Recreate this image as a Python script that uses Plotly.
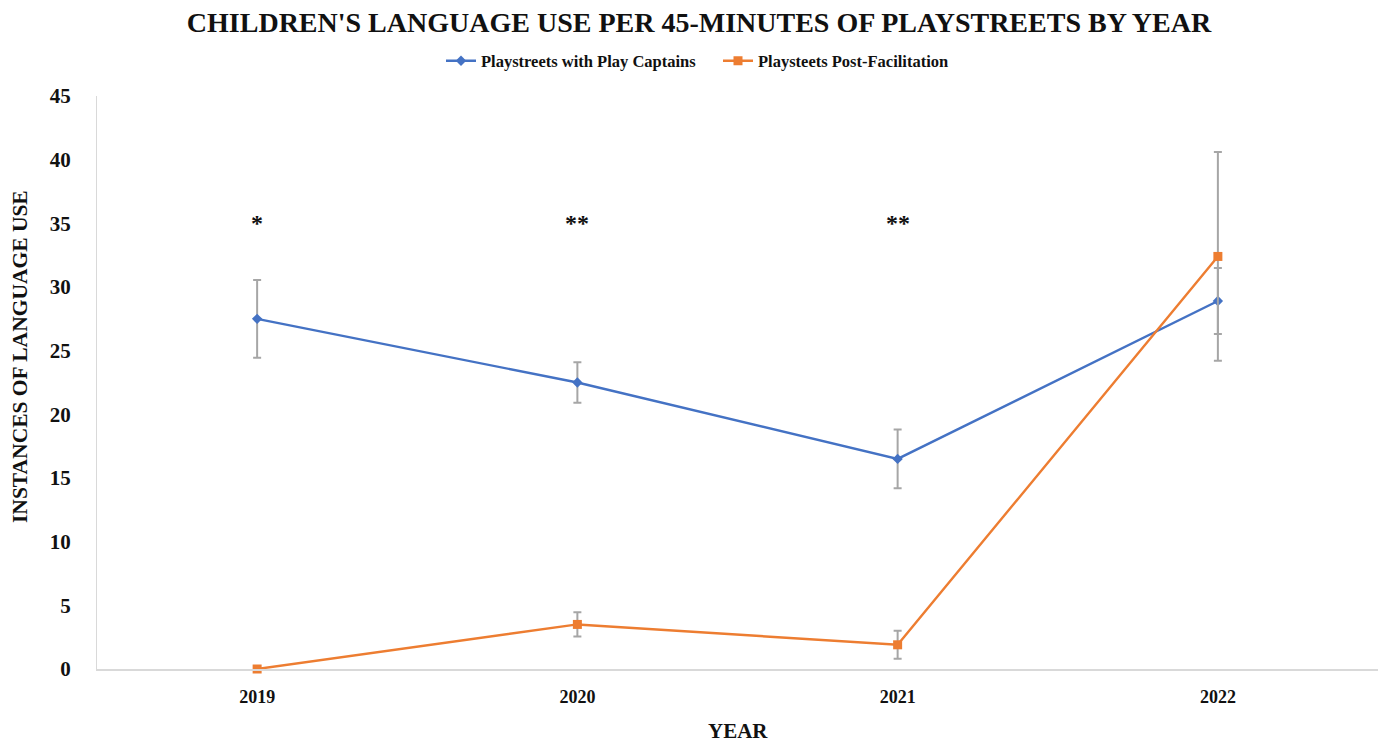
import plotly.graph_objects as go

years = ["2019", "2020", "2021", "2022"]
captains = [27.5, 22.5, 16.5, 28.9]
captains_err = [3.05, 1.6, 2.3, 2.6]
post = [0.0, 3.5, 1.9, 32.4]
post_err = [0.0, 0.95, 1.1, 8.2]
sig_labels = ["*", "**", "**", ""]
sig_y = 35

SERIF = "Liberation Serif"
BLUE = "#4472C4"
ORANGE = "#ED7D31"
GREY = "#A6A6A6"

fig = go.Figure()
fig.add_trace(go.Scatter(
    x=years, y=captains, name="Playstreets with Play Captains",
    mode="lines+markers", cliponaxis=False,
    line=dict(color=BLUE, width=2.4),
    marker=dict(symbol="diamond", size=8, color=BLUE),
    error_y=dict(type="data", array=captains_err, color=GREY, thickness=2, width=4),
))
fig.add_trace(go.Scatter(
    x=years, y=post, name="Playsteets Post-Facilitation",
    mode="lines+markers", cliponaxis=False,
    line=dict(color=ORANGE, width=2.4),
    marker=dict(symbol="square", size=9, color=ORANGE),
    error_y=dict(type="data", array=post_err, color=GREY, thickness=2, width=4),
))

for i, lab in enumerate(sig_labels):
    if lab:
        fig.add_annotation(x=i, y=sig_y, xref="x", yref="y", text="<b>" + lab + "</b>",
                           showarrow=False,
                           font=dict(family=SERIF, size=24, color="#111"),
                           yanchor="middle")

fig.update_layout(
    width=1383, height=742,
    paper_bgcolor="white", plot_bgcolor="white",
    margin=dict(l=97, r=5, t=96, b=73),
    title=dict(text="<b>CHILDREN'S LANGUAGE USE PER 45-MINUTES OF PLAYSTREETS BY YEAR</b>",
               x=(185 + 1213) / 2 / 1383, xanchor="center", y=1 - 22 / 742, yanchor="middle",
               font=dict(family=SERIF, size=28, color="#111")),
    legend=dict(orientation="h", x=(441 - 97) / 1281, xanchor="left", y=1 + (96 - 61) / 573, yanchor="middle",
                font=dict(family=SERIF, size=16.5, color="#111", weight="bold"),
                itemwidth=30, entrywidth=232, entrywidthmode="pixels", bgcolor="rgba(0,0,0,0)",
                tracegroupgap=0),
    showlegend=True,
)
fig.update_xaxes(
    type="category", range=[-0.5, 3.5],
    showline=True, linecolor="#D9D9D9", linewidth=1.5,
    showgrid=False, zeroline=False, ticks="",
    tickfont=dict(family=SERIF, size=18, color="#111", weight="bold"),
    ticklabelstandoff=11,
)
fig.update_yaxes(
    range=[0, 45], dtick=5,
    showline=True, linecolor="#D9D9D9", linewidth=1,
    showgrid=False, zeroline=False, ticks="",
    tickfont=dict(family=SERIF, size=21, color="#111", weight="bold"),
    ticklabelstandoff=21,
)
fig.add_annotation(text="<b>YEAR</b>", xref="paper", yref="paper", x=(738 - 97) / 1281, y=-(731 - 669) / 573,
                   showarrow=False, yanchor="middle",
                   font=dict(family=SERIF, size=21, color="#111"))
fig.add_annotation(text="<b>INSTANCES OF LANGUAGE USE</b>", xref="paper", yref="paper",
                   x=-(97 - 20) / 1281, xanchor="center", y=(669 - 357) / 573, yanchor="middle",
                   textangle=-90, showarrow=False,
                   font=dict(family=SERIF, size=21.5, color="#111"))

fig.write_html("out.html")
